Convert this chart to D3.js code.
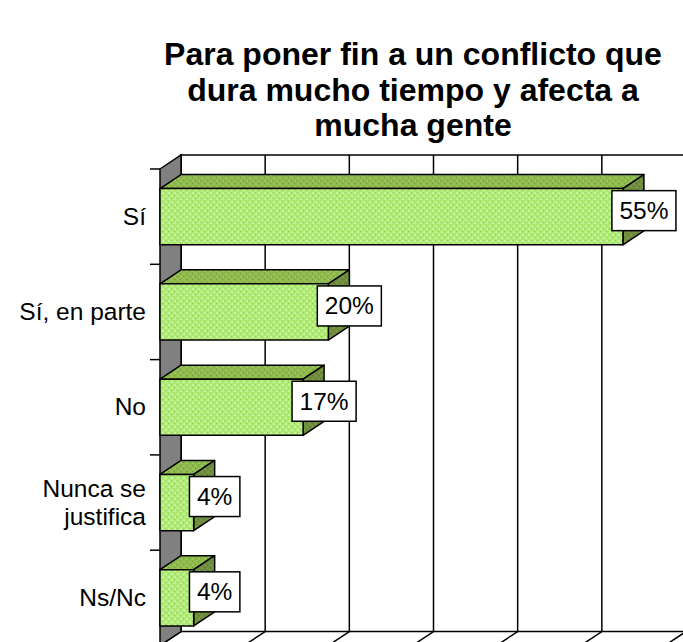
<!DOCTYPE html>
<html><head><meta charset="utf-8">
<script src="https://cdn.jsdelivr.net/npm/d3@7"></script>
<style>
html,body{margin:0;padding:0;background:#fff;}
svg{display:block;}
text{font-family:"Liberation Sans",Arial,sans-serif;}
</style></head>
<body>
<script>
const titleLines = ["Para poner fin a un conflicto que", "dura mucho tiempo y afecta a", "mucha gente"];
const categories = ["Sí", "Sí, en parte", "No", "Nunca se justifica", "Ns/Nc"];
const categoryLines = [["Sí"], ["Sí, en parte"], ["No"], ["Nunca se", "justifica"], ["Ns/Nc"]];
const values = [55, 20, 17, 4, 4];
const valueLabels = ["55%", "20%", "17%", "4%", "4%"];
const gridTicks = [0, 10, 20, 30, 40, 50, 60];

const W = 683, H = 642;
const svg = d3.select("body").append("svg").attr("width", W).attr("height", H);

// 3D depth offset
const DX = 21, DY = -14;

const x = d3.scaleLinear().domain([0, 60]).range([160, 665]);
const y = d3.scaleBand().domain(categories).range([169, 645.5]).paddingInner(0.41).paddingOuter(0.205);

const defs = svg.append("defs");
function pat(id, bg, light, dark) {
  const p = defs.append("pattern").attr("id", id).attr("patternUnits", "userSpaceOnUse")
    .attr("width", 6).attr("height", 6);
  p.append("rect").attr("width", 6).attr("height", 6).attr("fill", bg);
  p.append("path").attr("d", "M0,1L1,0L2,1L1,2Z M3,4L4,3L5,4L4,5Z").attr("fill", light);
  p.append("path").attr("d", "M3,0h1v1h-1Z M0,3h1v1h-1Z").attr("fill", dark);
}
pat("pFront", "#b0ea76", "#dcffbc", "#90d046");
pat("pTop", "#8cb84c", "#a9d06c", "#739c38");
pat("pSide", "#6e8c3c", "#88a658", "#5a7630");

// Title
svg.append("g").selectAll("text").data(titleLines).join("text")
  .attr("x", 413).attr("y", (d, i) => 65 + i * 35.5)
  .attr("text-anchor", "middle").attr("font-weight", "bold").attr("font-size", 32)
  .attr("fill", "#000").text(d => d);

const y0 = y.range()[0], y1 = y.range()[1];
const xb0 = x(0) + DX, xb1 = x(60) + DX;

// Back wall
const g = svg.append("g").attr("stroke", "#000").attr("stroke-width", 1.5);
g.append("rect").attr("x", xb0).attr("y", y0 + DY).attr("width", xb1 - xb0).attr("height", y1 - y0)
  .attr("fill", "#fff");
// Gridlines on back wall and floor
g.selectAll("path.grid").data(gridTicks).join("path").attr("class", "grid").attr("fill", "none")
  .attr("d", d => `M${x(d) + DX},${y0 + DY}V${y1 + DY}L${x(d)},${y1}`);
// Left wall
g.append("path").attr("fill", "#808080")
  .attr("d", `M${x(0)},${y0}L${x(0) + DX},${y0 + DY}V${y1 + DY}L${x(0)},${y1}Z`);
// Category ticks
const boundaries = d3.range(categories.length + 1).map(k => y0 + k * y.step());
g.selectAll("line.tick").data(boundaries).join("line").attr("class", "tick")
  .attr("x1", x(0) - 10).attr("x2", x(0)).attr("y1", d => d).attr("y2", d => d);

// Bars
const bars = svg.append("g").attr("stroke", "#000").attr("stroke-width", 1.5).attr("stroke-linejoin", "round");
categories.forEach((c, i) => {
  const xl = x(0), xr = x(values[i]);
  const yt = y(c), yb = y(c) + y.bandwidth();
  bars.append("path").attr("fill", "url(#pTop)")
    .attr("d", `M${xl},${yt}L${xl + DX},${yt + DY}H${xr + DX}L${xr},${yt}Z`);
  bars.append("path").attr("fill", "url(#pSide)")
    .attr("d", `M${xr},${yt}L${xr + DX},${yt + DY}V${yb + DY}L${xr},${yb}Z`);
  bars.append("rect").attr("fill", "url(#pFront)")
    .attr("x", xl).attr("y", yt).attr("width", xr - xl).attr("height", yb - yt);
});

// Category labels
const lab = svg.append("g").attr("font-size", 24.5).attr("fill", "#000").attr("text-anchor", "end");
categories.forEach((c, i) => {
  const lines = categoryLines[i];
  const cy = y(c) + y.bandwidth() / 2;
  lines.forEach((t, j) => {
    lab.append("text").attr("x", 146)
      .attr("y", cy + (j - (lines.length - 1) / 2) * 28 + 8).text(t);
  });
});

// Value labels
const vl = svg.append("g");
categories.forEach((c, i) => {
  const cx = x(values[i]) + DX;
  const cy = y(c) + y.bandwidth() / 2 - 6;
  const t = vl.append("text").attr("x", cx).attr("y", cy + 8.5).attr("text-anchor", "middle")
    .attr("font-size", 24.5).attr("fill", "#000").text(valueLabels[i]);
  const bw = t.node().getComputedTextLength() + 15;
  vl.insert("rect", "text:last-child").attr("x", cx - bw / 2).attr("y", cy - 20)
    .attr("width", bw).attr("height", 40).attr("fill", "#fff").attr("stroke", "#000").attr("stroke-width", 1.5);
});
</script>
</body></html>
